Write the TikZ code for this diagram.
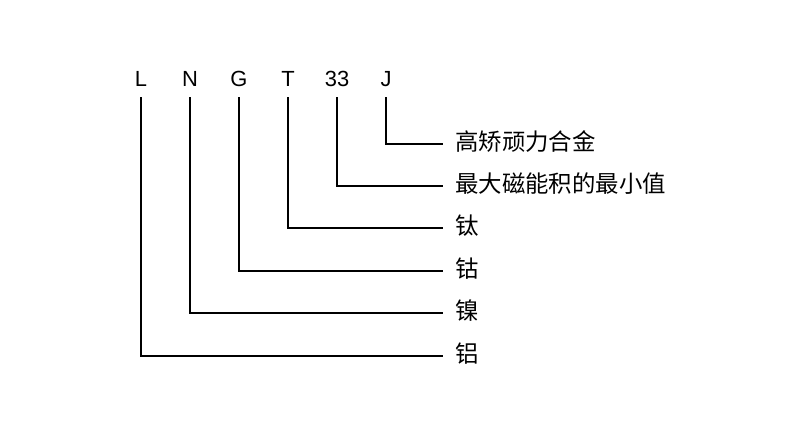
\documentclass[tikz,border=0pt]{standalone}
\usepackage{fontspec}
\setmainfont{Liberation Sans}
\newfontfamily\cjk{Noto Sans CJK SC}
\begin{document}
\begin{tikzpicture}[x=1bp,y=-1bp,
  code/.style={inner sep=0pt,anchor=base,font=\fontsize{22}{24}\selectfont},
  desc/.style={inner sep=0pt,anchor=west,text height=1.25em,text depth=0pt,font=\cjk\fontsize{23.5}{26}\selectfont},
  conn/.style={line width=2bp,shorten <=11bp,shorten >=12bp}]
\useasboundingbox (0,0) rectangle (800,425);
\node[code] (L) at (141,86) {L};
\node[code] (N) at (190,86) {N};
\node[code] (G) at (239,86) {G};
\node[code] (T) at (288,86) {T};
\node[code] (S) at (337,86) {33};
\node[code] (J) at (386,86) {J};
\node[desc] (dJ) at (455,144) {高矫顽力合金};
\node[desc] (dS) at (455,186) {最大磁能积的最小值};
\node[desc] (dT) at (455,228) {钛};
\node[desc] (dG) at (455,271) {钴};
\node[desc] (dN) at (455,313) {镍};
\node[desc] (dL) at (455,356) {铝};
\draw[conn] (J.base) |- (dJ.west);
\draw[conn] (S.base) |- (dS.west);
\draw[conn] (T.base) |- (dT.west);
\draw[conn] (G.base) |- (dG.west);
\draw[conn] (N.base) |- (dN.west);
\draw[conn] (L.base) |- (dL.west);
\end{tikzpicture}
\end{document}
